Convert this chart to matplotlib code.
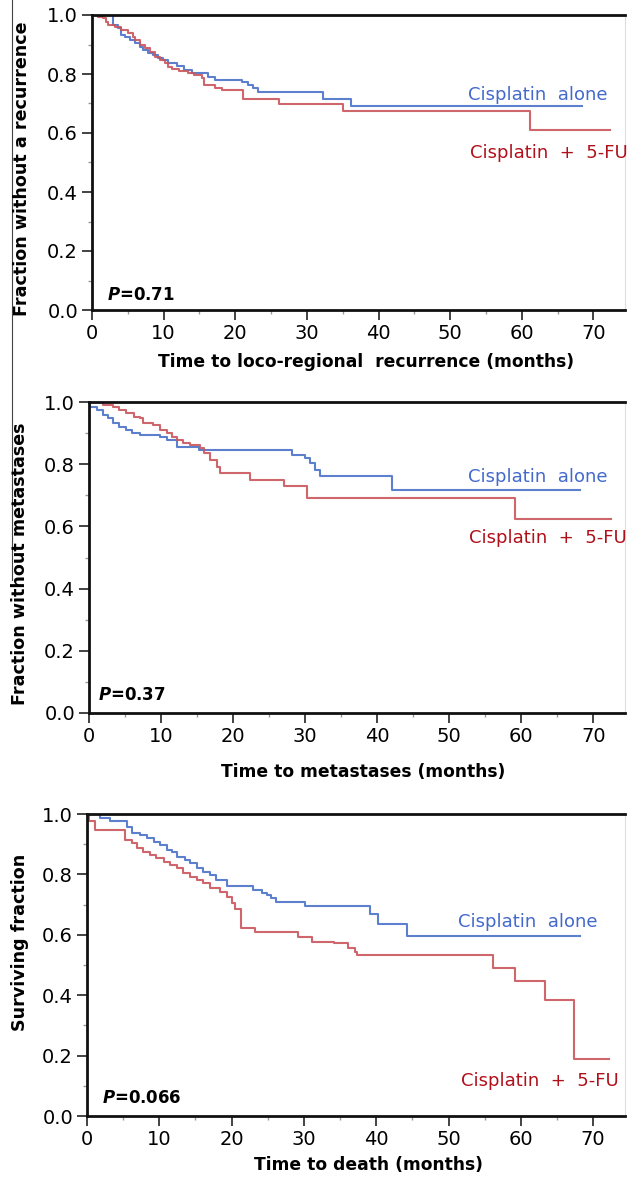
import matplotlib.pyplot as plt
from matplotlib.lines import Line2D
from matplotlib.ticker import MultipleLocator

plt.rcParams['font.family'] = ['DejaVu Sans']

# --- data (months, fraction) ---
# panel 1: loco-regional recurrence
t1_alone = [0, 2.9, 3.6, 4.1, 4.6, 5.3, 6.0, 6.7, 7.1, 7.8, 8.5, 9.2, 9.9, 10.6, 11.8, 12.9, 13.9,
            16.2, 17.1, 20.9, 21.8, 22.5, 23.2, 32.3, 36.2, 68.4]
s1_alone = [1.0, 0.966, 0.955, 0.932, 0.927, 0.915, 0.904, 0.893, 0.881, 0.870, 0.864, 0.853, 0.847,
            0.836, 0.827, 0.814, 0.805, 0.791, 0.780, 0.774, 0.763, 0.751, 0.740, 0.715, 0.690, 0.690]
t1_fu = [0, 0.8, 1.5, 2.0, 2.2, 3.2, 4.1, 5.0, 5.7, 6.0, 6.7, 7.4, 8.1, 8.8, 9.5, 10.2, 10.6, 11.1,
         12.2, 13.4, 14.3, 15.3, 15.7, 17.1, 18.1, 21.1, 26.1, 35.1, 61.2, 72.3]
s1_fu = [1.0, 0.994, 0.989, 0.977, 0.966, 0.960, 0.949, 0.938, 0.927, 0.915, 0.898, 0.887, 0.876,
         0.859, 0.847, 0.836, 0.825, 0.816, 0.811, 0.802, 0.797, 0.785, 0.763, 0.751, 0.746, 0.714,
         0.698, 0.675, 0.610, 0.610]

# panel 2: metastases
t2_alone = [0, 0.1, 1.1, 2.0, 2.7, 3.4, 4.1, 5.2, 5.9, 7.1, 9.9, 10.8, 12.2, 15.2, 28.2, 30.0, 30.7,
            31.4, 32.1, 42.0, 68.2]
s2_alone = [1.0, 0.985, 0.974, 0.958, 0.947, 0.931, 0.921, 0.910, 0.899, 0.894, 0.886, 0.878, 0.856,
            0.846, 0.830, 0.819, 0.803, 0.781, 0.762, 0.717, 0.717]
t2_fu = [0, 2.0, 3.4, 4.1, 5.2, 6.2, 7.1, 7.5, 8.9, 9.9, 10.8, 11.5, 12.2, 13.1, 14.0, 15.4, 15.9,
         16.8, 17.7, 18.2, 22.4, 27.1, 30.2, 59.2, 72.4]
s2_fu = [1.0, 0.990, 0.985, 0.974, 0.964, 0.953, 0.948, 0.931, 0.926, 0.910, 0.899, 0.888, 0.878,
         0.867, 0.862, 0.851, 0.835, 0.814, 0.792, 0.771, 0.749, 0.729, 0.690, 0.623, 0.623]

# panel 3: death
t3_alone = [0, 1.8, 3.2, 5.5, 6.2, 7.3, 8.3, 9.2, 10.1, 11.0, 11.7, 12.4, 13.6, 14.2, 15.2, 16.1,
            17.0, 17.9, 19.3, 23.0, 24.2, 24.9, 25.5, 26.2, 30.2, 39.1, 40.2, 44.2, 68.2]
s3_alone = [1.0, 0.986, 0.978, 0.958, 0.936, 0.930, 0.920, 0.908, 0.897, 0.881, 0.875, 0.859, 0.848,
            0.837, 0.820, 0.809, 0.798, 0.781, 0.760, 0.748, 0.740, 0.732, 0.721, 0.710, 0.694,
            0.668, 0.637, 0.596, 0.596]
t3_fu = [0, 0.3, 1.1, 5.3, 6.2, 6.9, 7.8, 8.7, 9.6, 10.6, 11.5, 12.4, 13.3, 14.2, 15.2, 16.1, 17.0,
         18.4, 19.3, 20.0, 20.5, 21.3, 23.2, 29.2, 31.1, 34.1, 36.1, 37.1, 37.3, 56.2, 59.2, 63.3,
         67.3, 72.2]
s3_fu = [1.0, 0.976, 0.947, 0.914, 0.903, 0.886, 0.875, 0.864, 0.853, 0.842, 0.831, 0.820, 0.804,
         0.792, 0.781, 0.771, 0.754, 0.743, 0.726, 0.704, 0.686, 0.624, 0.610, 0.594, 0.577, 0.572,
         0.555, 0.544, 0.533, 0.491, 0.447, 0.384, 0.188, 0.188]

p_values = ['0.71', '0.37', '0.066']
y_labels = ['Fraction without a recurrence', 'Fraction without metastases', 'Surviving fraction']
x_labels = ['Time to loco-regional  recurrence (months)', 'Time to metastases (months)',
            'Time to death (months)']
label_alone = 'Cisplatin  alone'
label_fu = 'Cisplatin  +  5-FU'

BLUE = '#4a72c8'
RED = '#c9555c'
BLUE_TXT = '#4369cc'
RED_TXT = '#b0101a'

W, H = 628, 1181
fig = plt.figure(figsize=(W / 100, H / 100), dpi=100)

# axes boxes in pixels: left, top, right, bottom
boxes = [(92, 15, 625, 310), (89, 402, 625, 713), (87, 814, 625, 1116)]
curves = [(t1_alone, s1_alone, t1_fu, s1_fu),
          (t2_alone, s2_alone, t2_fu, s2_fu),
          (t3_alone, s3_alone, t3_fu, s3_fu)]
# text anchors (data coords)
alone_pos = [(52.5, 0.729), (52.6, 0.760), (51.3, 0.643)]
fu_pos = [(52.8, 0.532), (52.8, 0.563), (51.7, 0.116)]
p_pos = [(2.1, 0.05), (1.25, 0.058), (2.1, 0.06)]
ylab_pos = [(22, 169), (20, 564), (20, 942)]
xlab_pos = [(366, 362), (363, 772), (368, 1165)]

for i in range(3):
    l, t, r, b = boxes[i]
    ax = fig.add_axes([l / W, 1 - b / H, (r - l) / W, (b - t) / H])
    ta, sa, tf, sf = curves[i]
    ax.step(ta, sa, where='post', color=BLUE, lw=1.5, alpha=0.9)
    ax.step(tf, sf, where='post', color=RED, lw=1.5, alpha=0.9)

    ax.set_xlim(0, 74.4)
    ax.set_ylim(0, 1.0)
    ax.xaxis.set_major_locator(MultipleLocator(10))
    ax.xaxis.set_minor_locator(MultipleLocator(5))
    ax.yaxis.set_minor_locator(MultipleLocator(0.1))
    ax.set_yticks([0, 0.2, 0.4, 0.6, 0.8, 1.0])
    ax.set_yticklabels(['0.0', '0.2', '0.4', '0.6', '0.8', '1.0'])
    ax.tick_params(which='major', direction='out', length=7, width=1.2, labelsize=14,
                   color='#222222', pad=3)
    ax.tick_params(which='minor', direction='out', length=3, width=1, color='#999999')

    for side in ['left', 'bottom', 'top']:
        ax.spines[side].set_linewidth(2)
        ax.spines[side].set_color('#111111')
    ax.spines['right'].set_linewidth(0.8)
    ax.spines['right'].set_color('#dddddd')

    ax.text(*alone_pos[i], label_alone, color=BLUE_TXT, fontsize=13, va='center', ha='left')
    ax.text(*fu_pos[i], label_fu, color=RED_TXT, fontsize=13, va='center', ha='left')
    ax.text(*p_pos[i], r'$\bfit{P}$=' + p_values[i], fontsize=12, fontweight='bold',
            va='center', ha='left')

    fig.text(ylab_pos[i][0] / W, 1 - ylab_pos[i][1] / H, y_labels[i], rotation=90,
             fontsize=12.6, fontweight='bold', ha='center', va='center')
    fig.text(xlab_pos[i][0] / W, 1 - xlab_pos[i][1] / H, x_labels[i],
             fontsize=12.3, fontweight='bold', ha='center', va='center')

# thin vertical scan line along the left edge
fig.add_artist(Line2D([12 / W, 12 / W], [1.0, 1 - 580 / H], color='#444444', lw=0.8))

fig.savefig('out.png', dpi=100)
